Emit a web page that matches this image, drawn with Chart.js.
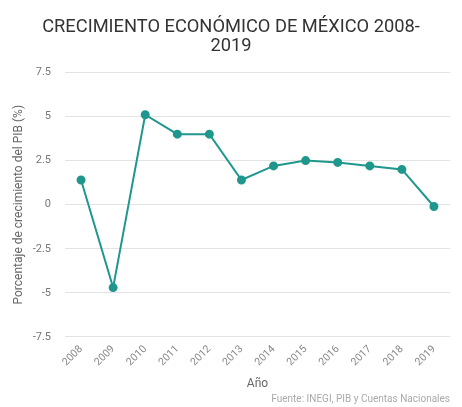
<!DOCTYPE html>
<html>
<head>
<meta charset="utf-8">
<script src="https://cdn.jsdelivr.net/npm/chart.js@4"></script>
<style>
  html, body { margin: 0; padding: 0; background: #fff; }
  #wrap { width: 462px; height: 407px; }
</style>
</head>
<body>
<div id="wrap"><canvas id="gdpChart"></canvas></div>
<script>
// Datos
const years = ["2008", "2009", "2010", "2011", "2012", "2013", "2014", "2015", "2016", "2017", "2018", "2019"];
const growth = [1.4, -4.7, 5.1, 4.0, 4.0, 1.4, 2.2, 2.5, 2.4, 2.2, 2.0, -0.1];
const yTicks = [-7.5, -5, -2.5, 0, 2.5, 5, 7.5];

const teal = "#1f978d";
const ctx = document.getElementById("gdpChart").getContext("2d");

new Chart(ctx, {
    type: "line",
    data: {
        labels: years,
        datasets: [{
            label: "Crecimiento",
            data: growth,
            borderColor: teal,
            backgroundColor: teal,
            borderWidth: 2,
            pointRadius: 3.5,
            pointBackgroundColor: teal,
            pointBorderColor: teal,
            tension: 0,
            fill: false
        }]
    },
    options: {
        responsive: true,
        maintainAspectRatio: false,
        animation: false,
        layout: { padding: { left: 12, right: 12, top: 6, bottom: 0 } },
        plugins: {
            legend: { display: false },
            tooltip: { enabled: false },
            title: {
                display: true,
                text: ["CRECIMIENTO ECONÓMICO DE MÉXICO 2008-", "2019"],
                color: "#333",
                font: { family: "Roboto", size: 18.3, weight: "normal", lineHeight: 1.05 },
                padding: { top: 12, bottom: 16 }
            },
            subtitle: {
                display: true,
                position: "bottom",
                align: "end",
                text: "Fuente: INEGI, PIB y Cuentas Nacionales",
                color: "#aaa",
                font: { family: "Roboto", size: 10 },
                padding: { top: 0, bottom: 2 }
            }
        },
        scales: {
            x: {
                offset: true,
                grid: { display: false, drawTicks: false },
                border: { display: false },
                ticks: {
                    color: "#888",
                    font: { family: "Roboto", size: 10.5 },
                    maxRotation: 45,
                    minRotation: 45,
                    padding: 6
                },
                title: {
                    display: true,
                    text: "Año",
                    color: "#666",
                    font: { family: "Roboto", size: 12 },
                    padding: { top: 2, bottom: 2 }
                }
            },
            y: {
                min: yTicks[0],
                max: yTicks[yTicks.length - 1],
                afterBuildTicks: axis => { axis.ticks = yTicks.map(v => ({ value: v })); },
                afterFit: axis => { axis.width = 53; },
                grid: { color: "#e3e3e3", drawTicks: false },
                border: { display: false },
                ticks: {
                    color: "#777",
                    font: { family: "Roboto", size: 11 },
                    padding: 14
                },
                title: {
                    display: true,
                    text: "Porcentaje de crecimiento del PIB (%)",
                    color: "#666",
                    font: { family: "Roboto", size: 12 },
                    padding: { top: 0, bottom: 6 }
                }
            }
        }
    }
});
</script>
</body>
</html>
